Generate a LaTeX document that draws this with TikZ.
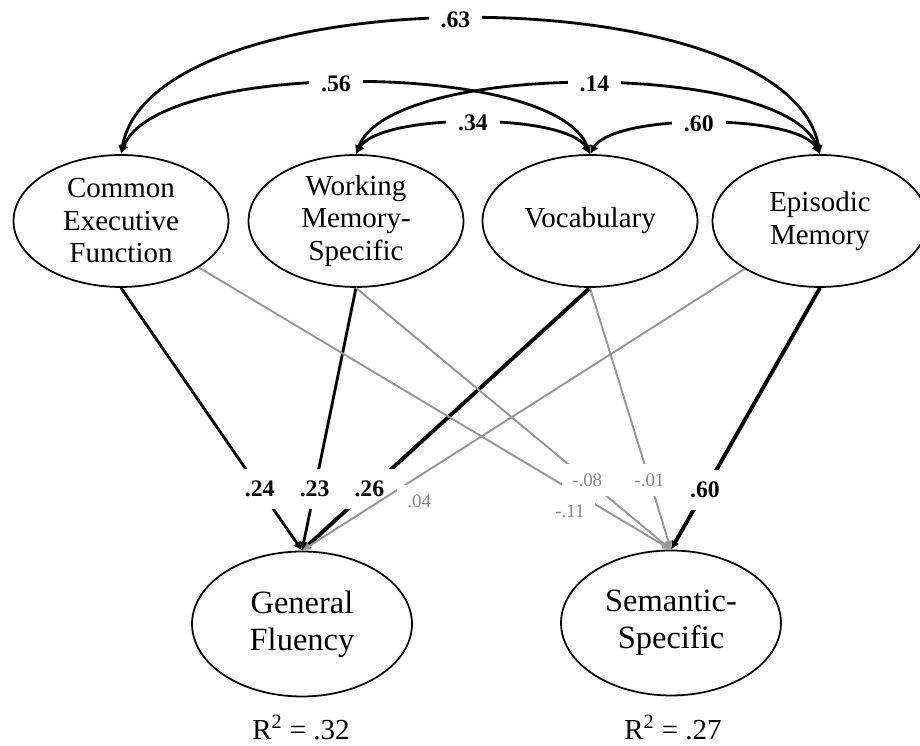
\documentclass[tikz,border=0pt]{standalone}
\usepackage{fontspec}
\setmainfont{Liberation Serif}
\usetikzlibrary{shapes, arrows.meta}
\definecolor{pathgray}{RGB}{150,150,150}
\definecolor{labelgray}{RGB}{135,135,135}
\tikzset{
  latent/.style={ellipse, draw, line width=1pt, minimum width=4.3cm, minimum height=2.64cm, inner sep=0pt, align=center, font=\fontsize{16.5}{18.5}\selectfont},
  outcome/.style={latent, minimum width=4.4cm, minimum height=2.9cm, font=\fontsize{18.5}{21}\selectfont},
  cov/.style={<->, line width=1.6pt},
  strong/.style={->, line width=1.6pt},
  weak/.style={->, line width=1.1pt, draw=pathgray},
  coef/.style={fill=white, inner sep=0.24cm, font=\fontsize{13.5}{16}\selectfont\bfseries},
  smallcoef/.style={fill=white, inner sep=0.2cm, text=labelgray, font=\fontsize{10.8}{13}\selectfont}
}

\begin{document}
\begin{tikzpicture}[x=0.02cm, y=0.02cm, >={Latex[length=5pt,width=5pt]}]
\useasboundingbox (0,0) rectangle (920,746);
% predictors
\node[latent] (cef) at (121,525) {Common\\Executive\\Function};
\node[latent] (wms) at (356,525) {Working\\Memory-\\Specific};
\node[latent] (voc) at (590,525) {Vocabulary};
\node[latent] (epi) at (820,525) {Episodic\\Memory};
% outcomes
\node[outcome] (gf) at (302,122) {General\\Fluency};
\node[outcome] (ss) at (671,123) {Semantic-\\Specific};
\node[anchor=base, font=\fontsize{16.5}{19}\selectfont] (r2gf) at (301,6) {R\textsuperscript{2} = .32};
\node[anchor=base, font=\fontsize{16.5}{19}\selectfont] (r2ss) at (673,6) {R\textsuperscript{2} = .27};
% correlations
\draw[cov] (cef.north) to[bend left=80, looseness=0.67] node[coef, pos=0.485] {.63} (epi.north);
\draw[cov] (cef.north) to[bend left=70, looseness=0.55] node[coef, pos=0.47] {.56} (voc.north);
\draw[cov] (wms.north) to[bend left=70, looseness=0.55] node[coef, pos=0.51] {.14} (epi.north);
\draw[cov] (wms.north) to[bend left=60, looseness=0.525] node[coef] {.34} (voc.north);
\draw[cov] (voc.north) to[bend left=60, looseness=0.525] node[coef, pos=0.48] {.60} (epi.north);
% paths
\draw[strong] (cef.south) -- node[coef, pos=0.766] {.24} (gf.north);
\draw[strong] (wms.south) -- node[coef, pos=0.766] {.23} (gf.north);
\draw[strong, line width=2.2pt] (voc.south) -- node[coef, pos=0.766] {.26} (gf.north);
\draw[strong, line width=2.2pt] (epi.south) -- node[coef, pos=0.772] {.60} (ss.north);
\draw[weak] (cef) -- node[smallcoef, pos=0.786, yshift=-0.44cm] {-.11} (ss.north);
\draw[weak] (wms.south) -- node[smallcoef, pos=0.734] {-.08} (ss.north);
\draw[weak] (voc.south) -- node[smallcoef, pos=0.734] {-.01} (ss.north);
\draw[weak] (epi) -- node[smallcoef, pos=0.735, yshift=-0.5cm] {.04} (gf.north);
\end{tikzpicture}
\end{document}
